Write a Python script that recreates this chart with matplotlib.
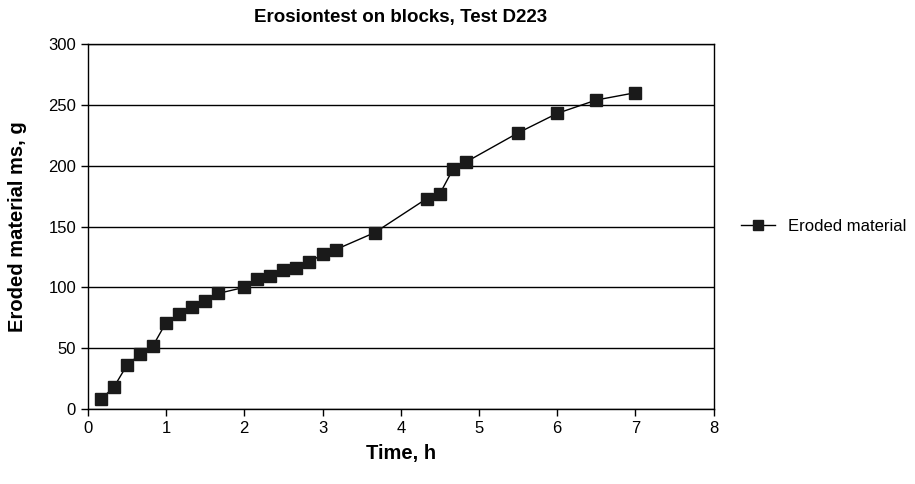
import matplotlib
matplotlib.use("Agg")
from matplotlib import pyplot as plt

plt.rcParams['font.family'] = ['Liberation Sans', 'DejaVu Sans']

# Datos
t = [0.167, 0.333, 0.5, 0.667, 0.833, 1.0, 1.167, 1.333, 1.5, 1.667,
     2.0, 2.167, 2.333, 2.5, 2.667, 2.833, 3.0, 3.167, 3.667,
     4.333, 4.5, 4.667, 4.833, 5.5, 6.0, 6.5, 7.0]
ms = [8, 18, 36, 45, 52, 71, 78, 84, 89, 95,
      100, 107, 109, 114, 116, 121, 127, 131, 145,
      173, 177, 197, 203, 227, 243, 254, 260]
serie = "Eroded material"

fig = plt.figure(figsize=(9.15, 4.84), dpi=100)
ax = fig.add_axes([0.096, 0.155, 0.684, 0.754])

ax.plot(t, ms, color="black", lw=1, marker="s", ms=9,
        mfc="#1a1a1a", mec="#1a1a1a", label=serie, zorder=3)

ax.set_xlim(0, 8)
ax.set_ylim(0, 300)
ax.set_xticks(range(0, 9))
ax.set_yticks(range(0, 301, 50))
ax.grid(axis="y", color="black", lw=1)
ax.set_axisbelow(True)
for s in ax.spines.values():
    s.set_color("black")
    s.set_linewidth(1)
ax.tick_params(labelsize=12, direction="out", length=5, width=1)

ax.set_title("Erosiontest on blocks, Test D223", fontsize=13.5, fontweight="bold", pad=16)
ax.set_xlabel("Time, h", fontsize=14.5, fontweight="bold", labelpad=6)
ax.set_ylabel("Eroded material ms, g", fontsize=14.5, fontweight="bold", labelpad=15)

ax.legend(loc="center left", bbox_to_anchor=(1.02, 0.5), frameon=False,
          fontsize=12, handlelength=2, markerscale=0.8)

fig.savefig("out.png")
